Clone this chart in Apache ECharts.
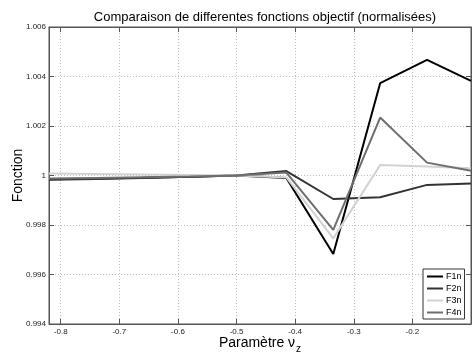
<!DOCTYPE html>
<html>
<head>
<meta charset="utf-8">
<script src="https://cdn.jsdelivr.net/npm/echarts@6/dist/echarts.min.js"></script>
<style>html,body{margin:0;padding:0;background:#fff}#c{width:472px;height:358px}</style>
</head>
<body>
<div id="c"></div>
<script>
const xValues = [-0.82, -0.74, -0.66, -0.58, -0.50, -0.415, -0.335, -0.255, -0.175, -0.10];
const F1n = [0.99985, 0.99988, 0.99991, 0.99995, 1.0, 0.9999, 0.99683, 1.00373, 1.00467, 1.00382];
const F2n = [0.99983, 0.99986, 0.9999, 0.99995, 1.0, 1.00018, 0.99905, 0.99912, 0.99962, 0.99968];
const F3n = [1.00008, 1.00006, 1.00004, 1.00002, 1.0, 0.99992, 0.99746, 1.00042, 1.00036, 1.00029];
const F4n = [0.99988, 0.9999, 0.99993, 0.99996, 1.0, 1.00012, 0.9978, 1.00234, 1.00052, 1.00019];
const xTicks = [-0.8, -0.7, -0.6, -0.5, -0.4, -0.3, -0.2];
const yTicks = [0.994, 0.996, 0.998, 1, 1.002, 1.004, 1.006];
const seriesNames = ['F1n', 'F2n', 'F3n', 'F4n'];
const seriesColors = ['#000000', '#333333', '#d2d2d2', '#6e6e6e'];
const seriesData = [F1n, F2n, F3n, F4n];

const chart = echarts.init(document.getElementById('c'), null, {renderer: 'canvas'});
const fontFam = '"Liberation Sans", Arial, sans-serif';
const xMin = -0.82, xMax = -0.1, yMin = 0.994, yMax = 1.006;

const baseX = {
  type: 'value', min: xMin, max: xMax,
  axisLine: {show: true, onZero: false, lineStyle: {color: '#555', width: 1}},
  axisTick: {show: true, inside: true, length: 5, customValues: xTicks, lineStyle: {color: '#555'}},
};
const baseY = {
  type: 'value', min: yMin, max: yMax, interval: 0.002,
  axisLine: {show: true, onZero: false, lineStyle: {color: '#555', width: 1}},
  axisTick: {show: true, inside: true, length: 5, lineStyle: {color: '#555'}},
};

chart.setOption({
  animation: false,
  backgroundColor: '#fff',
  title: {
    text: 'Comparaison de differentes fonctions objectif (normalisées)',
    left: 260, textAlign: 'center', top: 6,
    textStyle: {fontFamily: fontFam, fontSize: 13, fontWeight: 'normal', color: '#000'}
  },
  grid: {left: 49, right: 1, top: 27, bottom: 34, containLabel: false, outerBoundsMode: 'none',
    show: true, borderColor: '#555', borderWidth: 1, backgroundColor: '#fff'},
  legend: {
    data: seriesNames, orient: 'vertical', left: 423, top: 269,
    icon: 'rect', itemWidth: 16, itemHeight: 2,
    backgroundColor: '#fff', borderColor: '#333', borderWidth: 1,
    padding: [3, 3, 2, 4], itemGap: 3,
    textStyle: {fontFamily: fontFam, fontSize: 9, color: '#000', padding: [0, 0, 0, -2]}
  },
  xAxis: [
    Object.assign({}, baseX, {
      position: 'bottom',
      name: '{a|Paramètre ν}{s|z}', nameLocation: 'middle', nameGap: 12, nameMoveOverlap: false,
      nameTextStyle: {
        fontFamily: fontFam, fontSize: 14, color: '#000',
        rich: {
          a: {fontFamily: fontFam, fontSize: 14, color: '#000', verticalAlign: 'top'},
          s: {fontFamily: fontFam, fontSize: 10, color: '#000', padding: [8, 0, 0, 1]}
        }
      },
      axisLabel: {show: true, customValues: xTicks, margin: 4, fontFamily: fontFam, fontSize: 8, color: '#222',
        formatter: v => (+v.toFixed(1)).toString()},
      splitLine: {show: true, lineStyle: {color: '#bdbdbd', type: [1, 2], width: 1}}
    }),
    Object.assign({}, baseX, {position: 'top', axisLabel: {show: false}, splitLine: {show: false}})
  ],
  yAxis: [
    Object.assign({}, baseY, {
      position: 'left',
      name: 'Fonction', nameLocation: 'middle', nameGap: 24, nameRotate: 90, nameMoveOverlap: false,
      nameTextStyle: {fontFamily: fontFam, fontSize: 14, color: '#000'},
      axisLabel: {show: true, margin: 3, fontFamily: fontFam, fontSize: 8, color: '#222',
        formatter: v => (+v.toFixed(3)).toString()},
      splitLine: {show: true, lineStyle: {color: '#bdbdbd', type: [1, 2], width: 1}}
    }),
    Object.assign({}, baseY, {position: 'right', axisLabel: {show: false}, splitLine: {show: false}})
  ],
  series: seriesNames.map((n, i) => ({
    name: n, type: 'line', xAxisIndex: 0, yAxisIndex: 0,
    symbol: 'none', showSymbol: false,
    lineStyle: {color: seriesColors[i], width: 2},
    itemStyle: {color: seriesColors[i]},
    data: xValues.map((x, k) => [x, seriesData[i][k]])
  }))
});
</script>
</body>
</html>
